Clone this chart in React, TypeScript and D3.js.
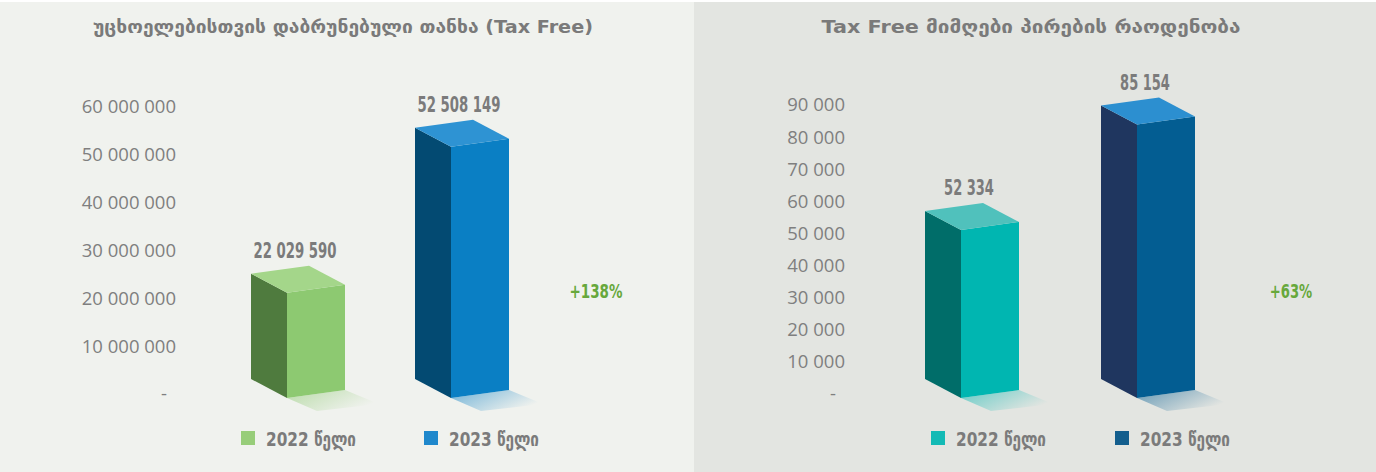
import React from 'react';
import * as d3 from 'd3';

const categories = ['2022', '2023'];
const legendLabels = ['2022 წელი', '2023 წელი'];

const refundTitle = 'უცხოელებისთვის დაბრუნებული თანხა (Tax Free)';
const refundValues = [22029590, 52508149];
const refundLabels = ['22 029 590', '52 508 149'];
const refundTicks = [0, 10000000, 20000000, 30000000, 40000000, 50000000, 60000000];
const refundTickLabels = ['-', '10 000 000', '20 000 000', '30 000 000', '40 000 000', '50 000 000', '60 000 000'];
const refundGrowth = '+138%';

const buyerTitle = 'Tax Free მიმღები პირების რაოდენობა';
const buyerValues = [52334, 85154];
const buyerLabels = ['52 334', '85 154'];
const buyerTicks = [0, 10000, 20000, 30000, 40000, 50000, 60000, 70000, 80000, 90000];
const buyerTickLabels = ['-', '10 000', '20 000', '30 000', '40 000', '50 000', '60 000', '70 000', '80 000', '90 000'];
const buyerGrowth = '+63%';

type BarColors = { front: string; side: string; top: string; legend: string };

type Panel = {
  id: string;
  x0: number;
  width: number;
  bg: string;
  title: string;
  titleX: number;
  titleW: number;
  values: number[];
  labels: string[];
  ticks: number[];
  tickLabels: string[];
  growth: string;
  growthX: number;
  axisX: number;
  domainMax: number;
  yRange: [number, number];
  barRange: [number, number];
  legendX: [number, number];
  colors: BarColors[];
};

const panels: Panel[] = [
  {
    id: 'l',
    x0: 0,
    width: 694,
    bg: '#f0f2ee',
    title: refundTitle,
    titleX: 343,
    titleW: 500,
    values: refundValues,
    labels: refundLabels,
    ticks: refundTicks,
    tickLabels: refundTickLabels,
    growth: refundGrowth,
    growthX: 596,
    axisX: 176,
    domainMax: 60000000,
    yRange: [394, 107],
    barRange: [287, 451],
    legendX: [241, 424],
    colors: [
      { front: '#8dc971', side: '#4f7b3e', top: '#a4d68a', legend: '#97cd79' },
      { front: '#0a7fc4', side: '#034a72', top: '#2e93d3', legend: '#1f88cc' },
    ],
  },
  {
    id: 'r',
    x0: 694,
    width: 682,
    bg: '#e3e5e1',
    title: buyerTitle,
    titleX: 1031,
    titleW: 419,
    values: buyerValues,
    labels: buyerLabels,
    ticks: buyerTicks,
    tickLabels: buyerTickLabels,
    growth: buyerGrowth,
    growthX: 1291,
    axisX: 845,
    domainMax: 90000,
    yRange: [394, 105],
    barRange: [961, 1137],
    legendX: [931, 1115],
    colors: [
      { front: '#00b6b1', side: '#006d69', top: '#50c1bc', legend: '#13bab5' },
      { front: '#035d92', side: '#1f365f', top: '#2c8fd0', legend: '#135e8d' },
    ],
  },
];

const W = 58;
const DX = -36;
const DY = -19;
const SLOPE = 4;

const pts = (p: [number, number][]) => p.map((q) => q.join(',')).join(' ');

function PanelView({ p }: { p: Panel }) {
  const y = d3.scaleLinear().domain([0, p.domainMax]).range(p.yRange);
  const x = d3.scalePoint<string>().domain(categories).range(p.barRange);
  const yB = y(0);
  return (
    <g>
      <rect x={p.x0} y={2} width={p.width} height={470} fill={p.bg} />
      <text
        x={p.titleX}
        y={33}
        textAnchor="middle"
        fontFamily="DejaVu Sans, sans-serif"
        fontWeight="bold"
        fontSize={18.5}
        fill="#7a7a7a"
        textLength={p.titleW}
        lengthAdjust="spacingAndGlyphs"
      >
        {p.title}
      </text>
      {p.ticks.map((t, i) => (
        <text
          key={t}
          x={p.axisX - (t === 0 ? 9 : 0)}
          y={y(t)}
          dy="0.35em"
          textAnchor="end"
          fontFamily="Open Sans, sans-serif"
          fontSize={18.5}
          fill="#7f7f7f"
        >
          {p.tickLabels[i]}
        </text>
      ))}
      <defs>
        {categories.map((c, i) => (
          <linearGradient key={c} id={`sh-${p.id}-${i}`} x1="0" y1="0" x2="1" y2="0.5">
            <stop offset="0" stopColor={p.colors[i].front} stopOpacity={0.55} />
            <stop offset="1" stopColor={p.colors[i].front} stopOpacity={0} />
          </linearGradient>
        ))}
      </defs>
      {categories.map((c, i) => {
        const xf = x(c) as number;
        const yT = y(p.values[i]);
        const col = p.colors[i];
        const front: [number, number][] = [
          [xf, yT + SLOPE],
          [xf + W, yT - SLOPE],
          [xf + W, yB - SLOPE],
          [xf, yB + SLOPE],
        ];
        const side: [number, number][] = [
          [xf + DX, yT + SLOPE + DY],
          [xf, yT + SLOPE],
          [xf, yB + SLOPE],
          [xf + DX, yB + SLOPE + DY],
        ];
        const top: [number, number][] = [
          [xf + DX, yT + SLOPE + DY],
          [xf + W + DX, yT - SLOPE + DY],
          [xf + W, yT - SLOPE],
          [xf, yT + SLOPE],
        ];
        const shadow: [number, number][] = [
          [xf, yB + SLOPE],
          [xf + W, yB - SLOPE],
          [xf + W + 34, yB + 10],
          [xf + 30, yB + 17],
        ];
        const label = p.labels[i];
        return (
          <g key={c}>
            <polygon points={pts(shadow)} fill={`url(#sh-${p.id}-${i})`} />
            <polygon points={pts(side)} fill={col.side} />
            <polygon points={pts(front)} fill={col.front} />
            <polygon points={pts(top)} fill={col.top} />
            <text
              x={xf + (DX + W) / 2 - 3}
              y={yT - 31}
              textAnchor="middle"
              fontFamily="Liberation Sans Narrow, DejaVu Sans Condensed, sans-serif"
              fontWeight="bold"
              fontSize={22}
              fill="#7b7b7b"
              textLength={label.length * 8.3}
              lengthAdjust="spacingAndGlyphs"
            >
              {label}
            </text>
          </g>
        );
      })}
      <text
        x={p.growthX}
        y={298}
        textAnchor="middle"
        fontFamily="Liberation Sans Narrow, DejaVu Sans Condensed, sans-serif"
        fontWeight="bold"
        fontSize={20}
        fill="#67a83c"
        textLength={p.growth.length * 10.6}
        lengthAdjust="spacingAndGlyphs"
      >
        {p.growth}
      </text>
      {categories.map((c, i) => (
        <g key={`lg-${c}`}>
          <rect x={p.legendX[i]} y={431} width={14} height={14} fill={p.colors[i].legend} />
          <text
            x={p.legendX[i] + 25}
            y={446}
            fontFamily="Liberation Sans Narrow, DejaVu Sans Condensed, sans-serif"
            fontWeight="bold"
            fontSize={19}
            fill="#7b7b7b"
            textLength={90}
            lengthAdjust="spacingAndGlyphs"
          >
            {legendLabels[i]}
          </text>
        </g>
      ))}
    </g>
  );
}

export default function App() {
  return (
    <svg
      width={1376}
      height={472}
      style={{ position: 'absolute', left: 0, top: 0, background: '#ffffff' }}
    >
      {panels.map((p) => (
        <PanelView key={p.id} p={p} />
      ))}
    </svg>
  );
}
